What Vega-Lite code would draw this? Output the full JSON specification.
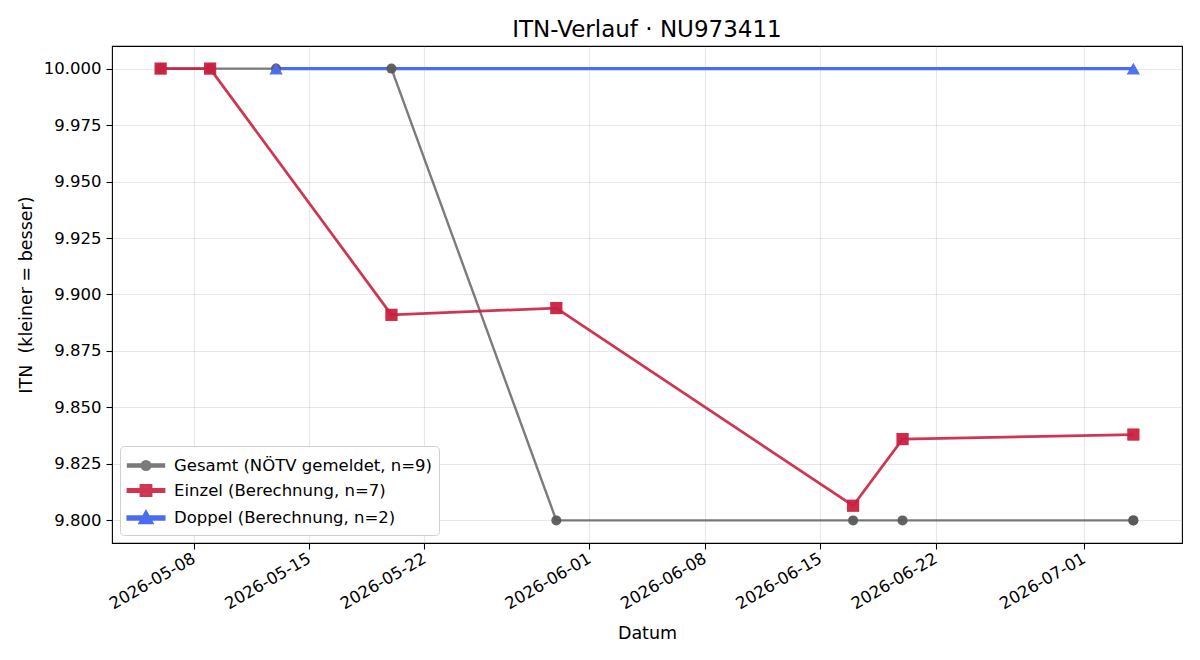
{
  "$schema": "https://vega.github.io/schema/vega-lite/v6.json",
  "autosize": "none",
  "width": 1070,
  "height": 497,
  "padding": {"left": 112, "top": 46, "right": 18, "bottom": 117},
  "background": "white",
  "title": {"text": "ITN-Verlauf · NU973411", "font": "DejaVu Sans", "fontSize": 23, "fontWeight": "normal", "color": "#000", "anchor": "middle", "baseline": "alphabetic", "offset": 9, "dy": 23},
  "config": {
    "font": "DejaVu Sans",
    "view": {"stroke": "#000", "strokeWidth": 1.1},
    "axis": {"labelFont": "DejaVu Sans", "labelFontSize": 16.5, "labelColor": "#000", "titleFont": "DejaVu Sans", "titleFontSize": 17.5, "titleFontWeight": "normal", "titleColor": "#000", "tickColor": "#000", "tickSize": 6, "tickWidth": 1.1, "domain": false, "gridColor": "#b0b0b0", "gridOpacity": 0.3, "gridWidth": 1.1}
  },
  "data": {"values": [
    {"series": "Gesamt (NÖTV gemeldet, n=9)", "datum": "2026-05-06", "itn": 10.0},
    {"series": "Gesamt (NÖTV gemeldet, n=9)", "datum": "2026-05-09", "itn": 10.0},
    {"series": "Gesamt (NÖTV gemeldet, n=9)", "datum": "2026-05-13", "itn": 10.0},
    {"series": "Gesamt (NÖTV gemeldet, n=9)", "datum": "2026-05-20", "itn": 10.0},
    {"series": "Gesamt (NÖTV gemeldet, n=9)", "datum": "2026-05-30", "itn": 9.8},
    {"series": "Gesamt (NÖTV gemeldet, n=9)", "datum": "2026-06-17", "itn": 9.8},
    {"series": "Gesamt (NÖTV gemeldet, n=9)", "datum": "2026-06-20", "itn": 9.8},
    {"series": "Gesamt (NÖTV gemeldet, n=9)", "datum": "2026-07-04", "itn": 9.8},
    {"series": "Gesamt (NÖTV gemeldet, n=9)", "datum": "2026-07-04", "itn": 9.8},
    {"series": "Einzel (Berechnung, n=7)", "datum": "2026-05-06", "itn": 10.0},
    {"series": "Einzel (Berechnung, n=7)", "datum": "2026-05-09", "itn": 10.0},
    {"series": "Einzel (Berechnung, n=7)", "datum": "2026-05-20", "itn": 9.891},
    {"series": "Einzel (Berechnung, n=7)", "datum": "2026-05-30", "itn": 9.894},
    {"series": "Einzel (Berechnung, n=7)", "datum": "2026-06-17", "itn": 9.8065},
    {"series": "Einzel (Berechnung, n=7)", "datum": "2026-06-20", "itn": 9.836},
    {"series": "Einzel (Berechnung, n=7)", "datum": "2026-07-04", "itn": 9.838},
    {"series": "Doppel (Berechnung, n=2)", "datum": "2026-05-13", "itn": 10.0},
    {"series": "Doppel (Berechnung, n=2)", "datum": "2026-07-04", "itn": 10.0}
  ]},
  "encoding": {
    "x": {"field": "datum", "type": "temporal", "title": "Datum",
      "scale": {"type": "utc", "domain": [{"year": 2026, "month": 5, "date": 3, "hours": 1, "minutes": 12, "utc": true}, {"year": 2026, "month": 7, "date": 6, "hours": 22, "minutes": 48, "utc": true}]},
      "axis": {"values": [
        {"year": 2026, "month": 5, "date": 8, "utc": true},
        {"year": 2026, "month": 5, "date": 15, "utc": true},
        {"year": 2026, "month": 5, "date": 22, "utc": true},
        {"year": 2026, "month": 6, "date": 1, "utc": true},
        {"year": 2026, "month": 6, "date": 8, "utc": true},
        {"year": 2026, "month": 6, "date": 15, "utc": true},
        {"year": 2026, "month": 6, "date": 22, "utc": true},
        {"year": 2026, "month": 7, "date": 1, "utc": true}],
        "format": "%Y-%m-%d", "labelAngle": -30, "labelAlign": "right", "labelBaseline": "middle", "labelPadding": 8, "labelDx": -4, "titlePadding": 12, "labelOverlap": false}},
    "y": {"field": "itn", "type": "quantitative", "title": "ITN \u00a0(kleiner = besser)",
      "scale": {"domain": [9.79, 10.01], "nice": false, "zero": false},
      "axis": {"values": [9.8, 9.825, 9.85, 9.875, 9.9, 9.925, 9.95, 9.975, 10.0], "format": ".3f", "labelPadding": 5, "titlePadding": 8}}
  },
  "layer": [
    {
      "mark": {"type": "line", "interpolate": "linear"},
      "encoding": {
        "color": {"field": "series", "type": "nominal",
          "scale": {"domain": ["Gesamt (NÖTV gemeldet, n=9)", "Einzel (Berechnung, n=7)", "Doppel (Berechnung, n=2)"], "range": ["#5a5a5a", "#c9203f", "#4a6cf0"]},
          "legend": {
            "title": null, "orient": "bottom-left", "offset": 8,
            "fillColor": "white", "strokeColor": "#d0d0d0", "cornerRadius": 4, "padding": 6,
            "labelFont": "DejaVu Sans", "labelFontSize": 16.5, "labelColor": "#000", "labelOffset": 14, "labelLimit": 600,
            "symbolSize": 576, "symbolOffset": 6, "symbolStrokeWidth": 0, "rowPadding": 2, "symbolOpacity": 0.95, "symbolType": "circle",
            "encoding": {"symbols": {
              "shape": {"condition": [
                {"test": "datum.value === 'Einzel (Berechnung, n=7)'", "value": "M-1.5,-0.1H1.5V0.1H-1.5Z M-0.42,-0.42H0.42V0.42H-0.42Z"},
                {"test": "datum.value === 'Doppel (Berechnung, n=2)'", "value": "M-1.5,-0.1H1.5V0.1H-1.5Z M0,-0.48L0.48,0.39H-0.48Z"}],
                "value": "M-1.5,-0.08H1.5V0.08H-1.5Z M0.36,0A0.36,0.36 0 1,1 -0.36,0A0.36,0.36 0 1,1 0.36,0Z"},
              "fill": {"condition": [
                {"test": "datum.value === 'Einzel (Berechnung, n=7)'", "value": "#c9203f"},
                {"test": "datum.value === 'Doppel (Berechnung, n=2)'", "value": "#4a6cf0"}],
                "value": "#6a6a6a"},
              "size": {"value": 576},
              "fillOpacity": {"value": 0.95},
              "opacity": {"value": 1},
              "strokeWidth": {"value": 0}
            }}
          }},
        "strokeWidth": {"field": "series", "type": "nominal", "legend": null,
          "scale": {"domain": ["Gesamt (NÖTV gemeldet, n=9)", "Einzel (Berechnung, n=7)", "Doppel (Berechnung, n=2)"], "range": [2.4, 3.1, 3.1]}},
        "opacity": {"field": "series", "type": "nominal", "legend": null,
          "scale": {"domain": ["Gesamt (NÖTV gemeldet, n=9)", "Einzel (Berechnung, n=7)", "Doppel (Berechnung, n=2)"], "range": [0.8, 1, 1]}}
      }
    },
    {
      "mark": {"type": "point", "filled": true, "opacity": 0.95},
      "encoding": {
        "color": {"field": "series", "type": "nominal", "legend": null,
          "scale": {"domain": ["Gesamt (NÖTV gemeldet, n=9)", "Einzel (Berechnung, n=7)", "Doppel (Berechnung, n=2)"], "range": ["#5a5a5a", "#c9203f", "#4a6cf0"]}},
        "shape": {"condition": [
          {"test": "datum.series === 'Einzel (Berechnung, n=7)'", "value": "square"},
          {"test": "datum.series === 'Doppel (Berechnung, n=2)'", "value": "triangle-up"}],
          "value": "circle"},
        "size": {"condition": [
          {"test": "datum.series === 'Einzel (Berechnung, n=7)'", "value": 150},
          {"test": "datum.series === 'Doppel (Berechnung, n=2)'", "value": 180}],
          "value": 100}
      }
    }
  ]
}
